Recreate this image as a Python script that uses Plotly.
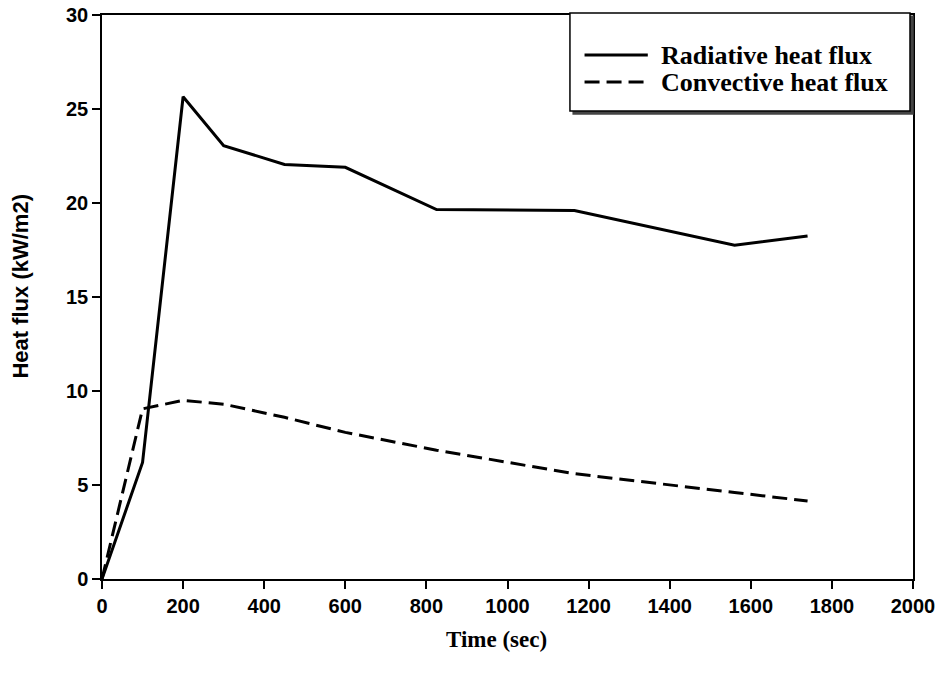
import plotly.graph_objects as go

time_rad = [0, 100, 200, 300, 450, 600, 825, 1165, 1560, 1740]
rad_flux = [0, 6.2, 25.65, 23.05, 22.05, 21.9, 19.65, 19.6, 17.75, 18.25]
time_conv = [0, 100, 200, 300, 450, 600, 825, 1165, 1560, 1740]
conv_flux = [0, 9.05, 9.5, 9.3, 8.6, 7.8, 6.85, 5.6, 4.6, 4.15]
series_names = ["Radiative heat flux", "Convective heat flux"]
x_ticks = list(range(0, 2001, 200))
y_ticks = list(range(0, 31, 5))

DASH = "15px,7px"

fig = go.Figure()
fig.add_trace(go.Scatter(x=time_rad, y=rad_flux, mode="lines", name=series_names[0],
                         line=dict(color="black", width=3), showlegend=False))
fig.add_trace(go.Scatter(x=time_conv, y=conv_flux, mode="lines", name=series_names[1],
                         line=dict(color="black", width=3, dash=DASH), showlegend=False))

axis_common = dict(showgrid=False, zeroline=False, showline=True, linecolor="black", linewidth=1.5,
                   mirror=True, ticks="outside", ticklen=8, tickwidth=1.5, tickcolor="black",
                   automargin=False)
tick_font = dict(family="Liberation Sans, Arial", size=20, color="black")
fig.update_xaxes(range=[0, 2000], tickvals=x_ticks, ticktext=["<b>%d</b>" % v for v in x_ticks],
                 **axis_common, tickfont=tick_font)
fig.update_yaxes(range=[0, 30], tickvals=y_ticks, ticktext=["<b>%d</b>" % v for v in y_ticks],
                 **axis_common, tickfont=tick_font)

# axis titles
fig.add_annotation(xref="paper", yref="paper", x=0.486, y=-0.107, yanchor="middle", xanchor="center",
                   text="<b>Time (sec)</b>", showarrow=False,
                   font=dict(family="Liberation Serif, Times New Roman", size=23, color="black"))
fig.add_annotation(xref="paper", yref="paper", x=-0.100, y=0.52, yanchor="middle", xanchor="center",
                   text="<b>Heat flux (kW/m2)</b>", showarrow=False, textangle=-90,
                   font=dict(family="Liberation Sans, Arial", size=22, color="black"))

# manual legend
fig.add_shape(type="rect", xref="paper", yref="paper", x0=0.581, x1=1.0000, y0=0.8245, y1=0.998,
              line=dict(color="#444", width=1.5), fillcolor="#444", layer="above")
fig.add_shape(type="rect", xref="paper", yref="paper", x0=0.577, x1=0.9963, y0=0.8298, y1=1.0035,
              line=dict(color="black", width=1.5), fillcolor="white", layer="above")
legend_y = [0.929, 0.881]
dashes = ["solid", DASH]
for name, yy, d in zip(series_names, legend_y, dashes):
    fig.add_shape(type="line", xref="paper", yref="paper", x0=0.595, x1=0.673, y0=yy, y1=yy,
                  line=dict(color="black", width=3, dash=d), layer="above")
    fig.add_annotation(xref="paper", yref="paper", x=0.687, y=yy, xanchor="left", yanchor="middle",
                       text="<b>" + name + "</b>", showarrow=False,
                       font=dict(family="Liberation Serif, Times New Roman", size=26, color="black"))

fig.update_layout(width=940, height=677, margin=dict(l=102, r=27, t=15, b=98, autoexpand=False),
                  plot_bgcolor="white", paper_bgcolor="white")
fig.write_html("out.html")
